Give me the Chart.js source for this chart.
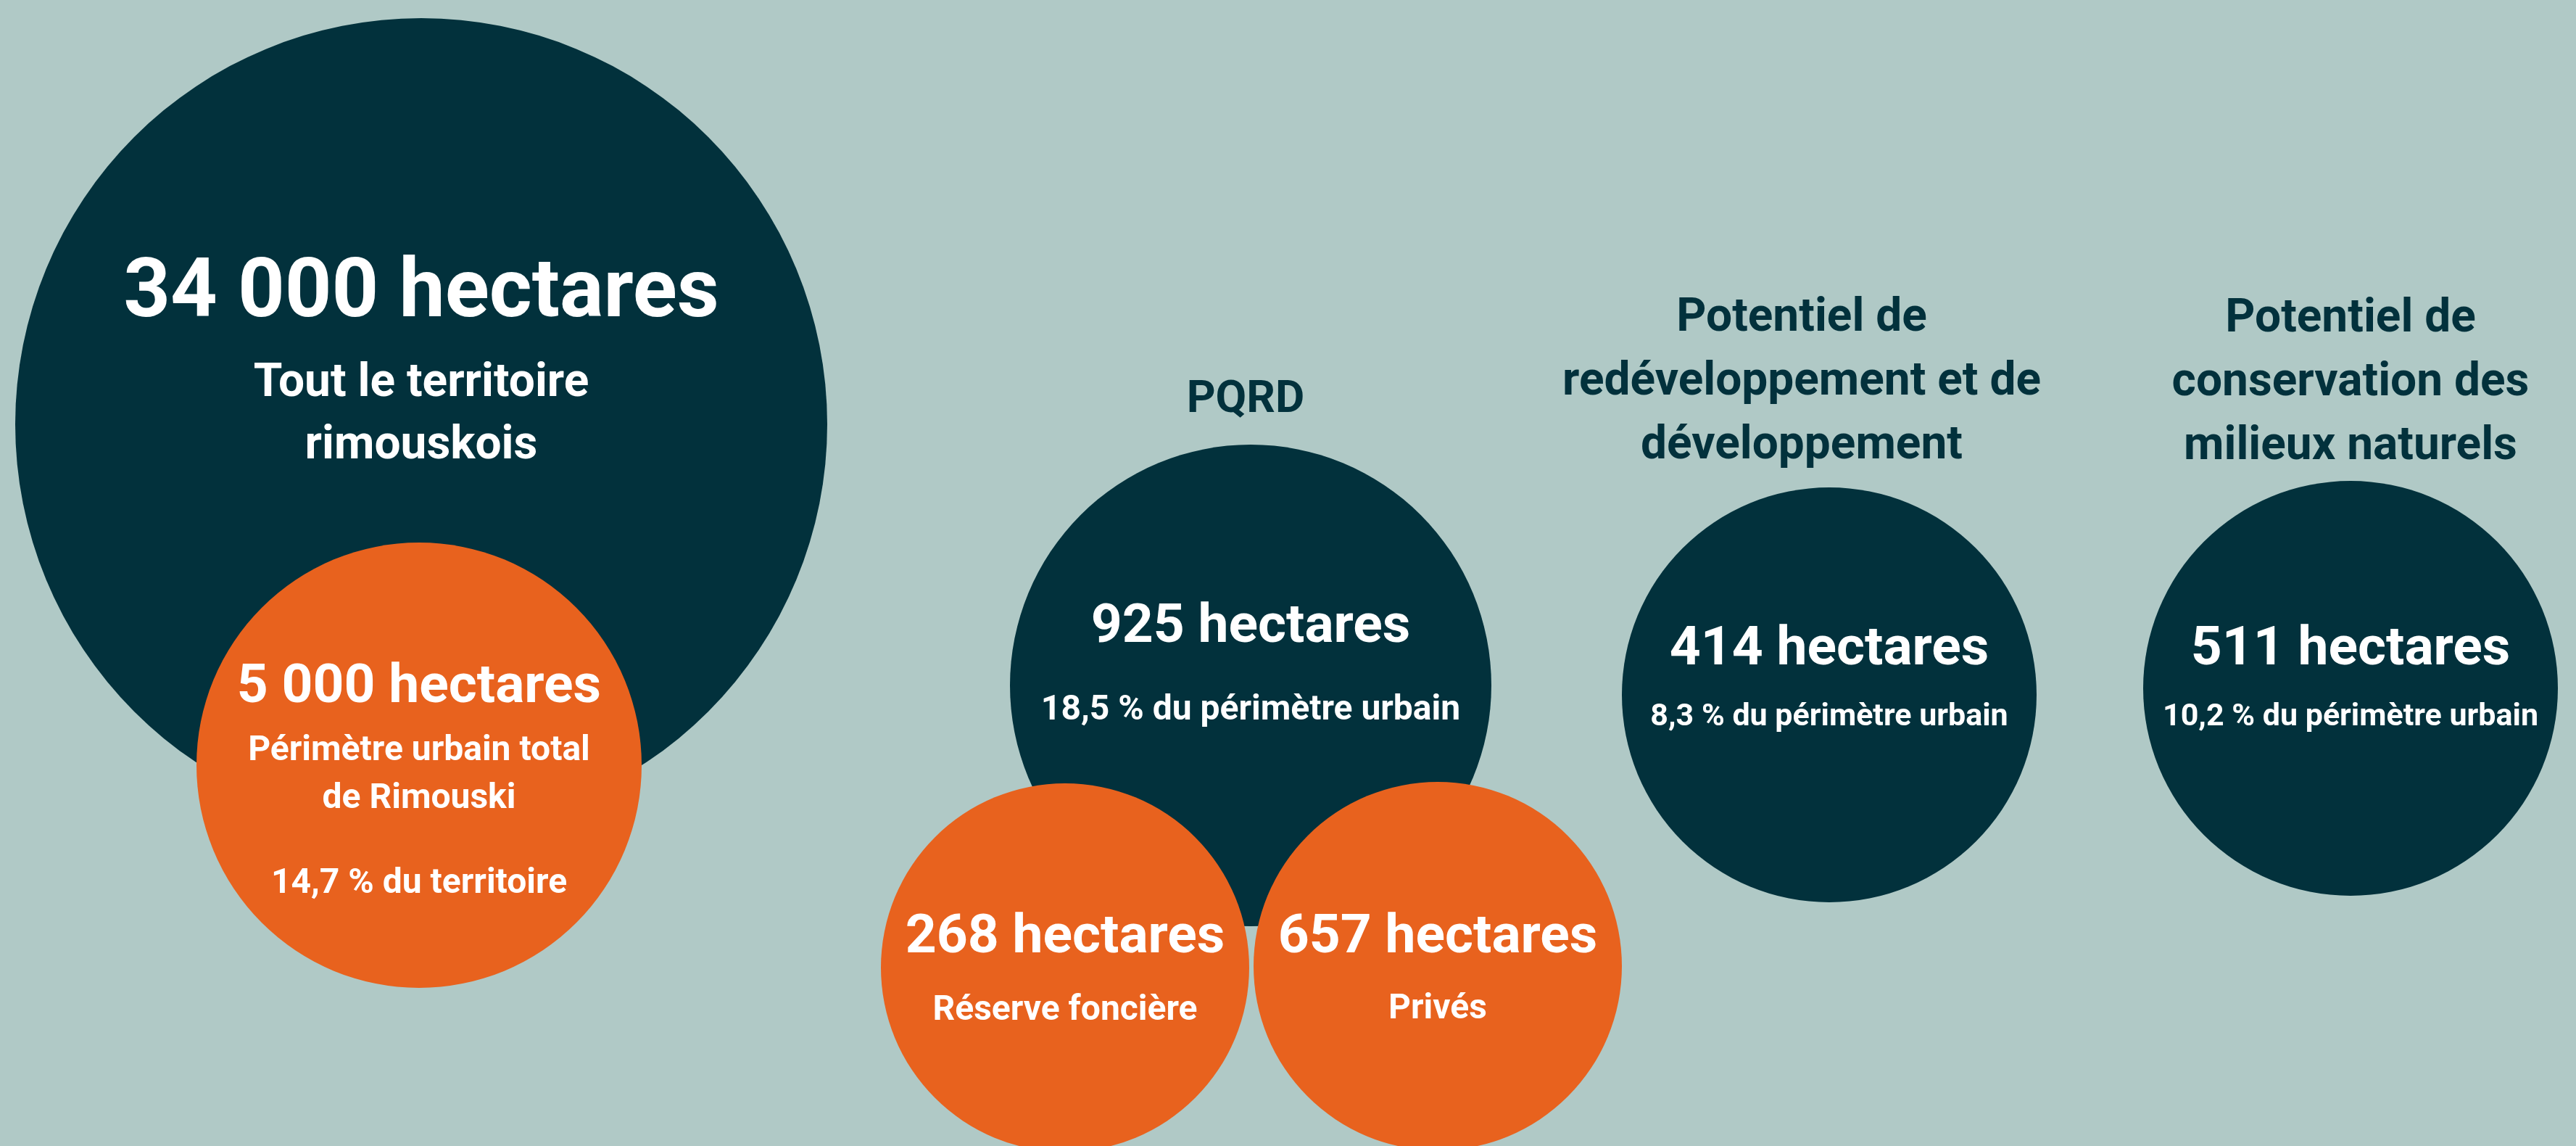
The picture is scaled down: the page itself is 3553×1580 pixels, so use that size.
<!DOCTYPE html>
<html lang="fr">
<head>
<meta charset="utf-8">
<title>Superficies - Rimouski</title>
<script src="https://cdn.jsdelivr.net/npm/chart.js@4/dist/chart.umd.min.js"></script>
<style>
  html, body { margin: 0; padding: 0; background: #b0c9c6; overflow: hidden; }
  canvas { display: block; }
</style>
</head>
<body>
<canvas id="chart" width="3553" height="1580"></canvas>
<script>
// --- data ---
const categories = [
  'Tout le territoire rimouskois',
  'Périmètre urbain total de Rimouski',
  'PQRD',
  'Réserve foncière',
  'Privés',
  'Potentiel de redéveloppement et de développement',
  'Potentiel de conservation des milieux naturels'
];
const hectares = [34000, 5000, 925, 268, 657, 414, 511];
const shareLabels = ['', '14,7 % du territoire', '18,5 % du périmètre urbain', '', '', '8,3 % du périmètre urbain', '10,2 % du périmètre urbain'];
const innerLines = [['Tout le territoire', 'rimouskois'], ['Périmètre urbain total', 'de Rimouski'], [], ['Réserve foncière'], ['Privés'], [], []];
const titleLines = [[], [], ['PQRD'], [], [], ['Potentiel de', 'redéveloppement et de', 'développement'], ['Potentiel de', 'conservation des', 'milieux naturels']];

// --- layout / styles ---
const DARK = '#02313c';
const ORANGE = '#e8621e';
const WHITE = '#ffffff';
const bubbleColors = [DARK, ORANGE, DARK, ORANGE, ORANGE, DARK, DARK];
const bubbleLayout = [
  { x: 581, y: 585, r: 560 },
  { x: 578, y: 1055, r: 307 },
  { x: 1725, y: 945, r: 332 },
  { x: 1469, y: 1334, r: 254 },
  { x: 1983, y: 1332, r: 254 },
  { x: 2523, y: 958, r: 286 },
  { x: 3242, y: 949, r: 286 }
];
// text offsets from the bubble centre (baselines)
const textLayout = [
  { value: [-149, 113], inner: [-39, 86, 64], share: null },
  { value: [-87, 75], inner: [-7, 66, 48], share: [176, 48] },
  { value: [-60, 75], inner: null, share: [47, 48], title: [-7, -377, 88, 62] },
  { value: [-21, 75], inner: [72, 0, 48], share: null },
  { value: [-19, 75], inner: [72, 0, 48], share: null },
  { value: [-42, 75], inner: null, share: [42, 43], title: [-38, -502, 88, 64] },
  { value: [-33, 75], inner: null, share: [51, 43], title: [0, -492, 88, 64] }
];

const fmt = v => String(v).replace(/\B(?=(\d{3})+(?!\d))/g, ' ') + ' hectares';

const labelPlugin = {
  id: 'bubbleLabels',
  afterDatasetsDraw(chart) {
    const ctx = chart.ctx;
    const meta = chart.getDatasetMeta(0);
    ctx.save();
    ctx.textAlign = 'center';
    ctx.textBaseline = 'alphabetic';
    meta.data.forEach((el, i) => {
      const t = textLayout[i];
      const cx = el.x, cy = el.y;
      ctx.fillStyle = WHITE;
      ctx.font = `700 ${t.value[1]}px Roboto`;
      ctx.fillText(fmt(hectares[i]), cx, cy + t.value[0]);
      if (t.inner) {
        ctx.font = `700 ${t.inner[2]}px Roboto`;
        innerLines[i].forEach((line, k) => {
          ctx.fillText(line, cx, cy + t.inner[0] + k * t.inner[1]);
        });
      }
      if (t.share && shareLabels[i]) {
        ctx.font = `700 ${t.share[1]}px Roboto`;
        ctx.fillText(shareLabels[i], cx, cy + t.share[0]);
      }
      if (t.title) {
        ctx.fillStyle = DARK;
        ctx.font = `700 ${t.title[3]}px Roboto`;
        titleLines[i].forEach((line, k) => {
          ctx.fillText(line, cx + t.title[0], cy + t.title[1] + k * t.title[2]);
        });
      }
    });
    ctx.restore();
  }
};

new Chart(document.getElementById('chart'), {
  type: 'bubble',
  data: {
    labels: categories,
    datasets: [{
      label: 'Hectares',
      data: hectares.map((v, i) => ({ x: bubbleLayout[i].x, y: bubbleLayout[i].y, r: bubbleLayout[i].r, v })),
      backgroundColor: bubbleColors,
      hoverBackgroundColor: bubbleColors,
      borderWidth: 0,
      hoverBorderWidth: 0,
      hoverRadius: 0,
      clip: false
    }]
  },
  options: {
    responsive: false,
    animation: false,
    devicePixelRatio: 1,
    events: [],
    layout: { padding: 0, autoPadding: false },
    scales: {
      x: { type: 'linear', min: 0, max: 3553, display: false },
      y: { type: 'linear', min: 0, max: 1580, reverse: true, display: false }
    },
    plugins: {
      legend: { display: false },
      tooltip: { enabled: false }
    }
  },
  plugins: [labelPlugin]
});
</script>
</body>
</html>
